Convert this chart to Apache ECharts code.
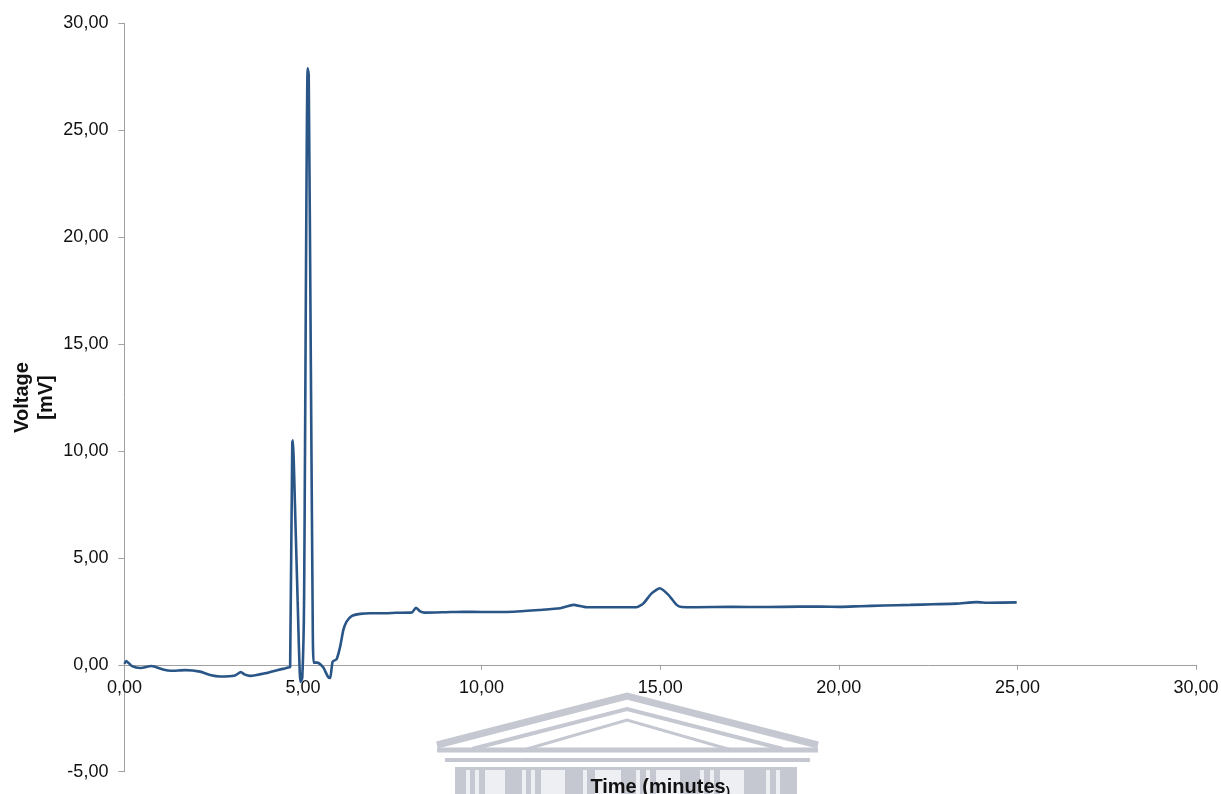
<!DOCTYPE html>
<html>
<head>
<meta charset="utf-8">
<script src="https://cdn.jsdelivr.net/npm/echarts@6/dist/echarts.min.js"></script>
<style>
  html, body { margin: 0; padding: 0; background: #fff; }
  #chart { width: 1221px; height: 794px; }
</style>
</head>
<body>
<div id="chart"></div>
<script>
// 色谱图数据 (时间 / 电压)
const timeMin = [0, 0.05, 0.2, 0.45, 0.76, 1.08, 1.3, 1.7, 2.12, 2.4, 2.68, 3.1, 3.26, 3.36, 3.52, 3.94, 4.3, 4.49, 4.62,
  4.64, 4.7, 4.72, 4.75, 4.85, 4.93, 4.98, 5.03, 5.13, 5.16, 5.22, 5.27, 5.3, 5.4, 5.5, 5.58, 5.7, 5.76, 5.83, 5.94,
  6.04, 6.13, 6.22, 6.36, 6.6, 6.88, 7.15, 7.6, 8.05, 8.16, 8.28, 8.4, 9.0, 9.5, 10.0, 10.9, 11.6, 12.2, 12.57, 12.94,
  13.5, 14.34, 14.53, 14.76, 14.99, 15.23, 15.46, 15.6, 16.0, 17.0, 18.0, 18.9, 19.5, 20.03, 20.6, 21.25, 22.0, 22.64,
  23.3, 23.86, 24.2, 24.98];
const voltage = [0.05, 0.18, -0.05, -0.15, -0.06, -0.22, -0.28, -0.25, -0.32, -0.48, -0.55, -0.5, -0.34, -0.45, -0.52, -0.4, -0.24, -0.17, -0.12,
  -0.1, 10.4, 10.5, 9.0, 3.0, -0.8, -0.6, 3.0, 27.9, 27.6, 14.0, 2.5, 0.1, 0.1, 0.0, -0.16, -0.56, -0.62, 0.15, 0.26,
  0.85, 1.63, 2.02, 2.28, 2.38, 2.41, 2.41, 2.43, 2.45, 2.67, 2.5, 2.44, 2.46, 2.48, 2.47, 2.48, 2.56, 2.64, 2.8, 2.69,
  2.69, 2.69, 2.87, 3.34, 3.58, 3.27, 2.8, 2.7, 2.69, 2.71, 2.7, 2.72, 2.72, 2.71, 2.74, 2.77, 2.8, 2.83,
  2.86, 2.93, 2.9, 2.92];

const xTicks = { min: 0, max: 30, interval: 5 };
const yTicks = { min: -5, max: 30, interval: 5 };

const seriesData = timeMin.map((t, i) => [t, voltage[i]]);
const fmt = v => v.toFixed(2).replace('.', ',');

// 网格尺寸
const gridTop = 23.3, gridBottom = 22.3;
const plotH = 794 - gridTop - gridBottom;
// x轴放在 y=0 处 (用 offset 向上移)
const zeroOffset = -plotH * (0 - yTicks.min) / (yTicks.max - yTicks.min);

const chart = echarts.init(document.getElementById('chart'));

// 水印 (建筑轮廓) 大致形状
const wm = '#c6c8d1';
const watermark = [
  { type: 'polyline', shape: { points: [[437, 745], [627, 696], [818, 745]] }, style: { stroke: wm, lineWidth: 7, fill: null } },
  { type: 'polyline', shape: { points: [[472, 749], [627, 709], [783, 749]] }, style: { stroke: wm, lineWidth: 4, fill: null } },
  { type: 'polyline', shape: { points: [[520, 751], [627, 720], [735, 751]] }, style: { stroke: wm, lineWidth: 3, fill: null } },
  { type: 'line', shape: { x1: 437, y1: 750, x2: 818, y2: 750 }, style: { stroke: wm, lineWidth: 5 } },
  { type: 'line', shape: { x1: 445, y1: 760, x2: 810, y2: 760 }, style: { stroke: wm, lineWidth: 4 } },
  { type: 'rect', shape: { x: 455, y: 767, width: 342, height: 27 }, style: { fill: wm } }
];
const windows = [[466, 4], [475, 4], [485, 20], [522, 4], [531, 4], [541, 24], [583, 4], [595, 26], [636, 4], [646, 4], [656, 24], [700, 4], [710, 4], [720, 24], [766, 4], [776, 4]];
windows.forEach(([x, w]) => {
  watermark.push({ type: 'rect', shape: { x: x, y: 770, width: w, height: 24 }, style: { fill: '#eeeff3' } });
});

chart.setOption({
  animation: false,
  backgroundColor: '#fff',
  textStyle: { fontFamily: 'Liberation Sans, Arial, sans-serif' },
  graphic: watermark.map(g => Object.assign({ z: -1, silent: true }, g)),
  grid: { left: 124.4, right: 25, top: gridTop, bottom: gridBottom, outerBoundsMode: 'none', containLabel: false },
  xAxis: {
    type: 'value',
    min: xTicks.min, max: xTicks.max, interval: xTicks.interval,
    offset: zeroOffset,
    axisLine: { onZero: false, lineStyle: { color: '#a0a0a0', width: 1 } },
    axisTick: { show: true, length: 5, lineStyle: { color: '#a0a0a0' } },
    splitLine: { show: false },
    axisLabel: { color: '#111', fontSize: 18, margin: 14, formatter: fmt },
    name: '{a|Time (minutes}{b|)}',
    nameLocation: 'middle',
    nameGap: 113,
    nameMoveOverlap: false,
    nameTextStyle: {
      rich: {
        a: { fontSize: 20, fontWeight: 'bold', color: '#111' },
        b: { fontSize: 13, fontWeight: 'bold', color: '#111', verticalAlign: 'bottom' }
      }
    }
  },
  yAxis: {
    type: 'value',
    min: yTicks.min, max: yTicks.max, interval: yTicks.interval,
    axisLine: { show: true, lineStyle: { color: '#a0a0a0', width: 1 } },
    axisTick: { show: true, length: 6, lineStyle: { color: '#a0a0a0' } },
    splitLine: { show: false },
    axisLabel: { color: '#111', fontSize: 18, margin: 16, formatter: fmt },
    name: 'Voltage\n[mV]',
    nameLocation: 'middle',
    nameGap: 66,
    nameRotate: 90,
    nameMoveOverlap: false,
    nameTextStyle: { fontSize: 20, fontWeight: 'bold', color: '#111', lineHeight: 24 }
  },
  series: [{
    type: 'line',
    data: seriesData,
    showSymbol: false,
    smooth: 0.2,
    lineStyle: { color: '#2a5587', width: 2.6 },
    z: 3
  }]
});
</script>
</body>
</html>
